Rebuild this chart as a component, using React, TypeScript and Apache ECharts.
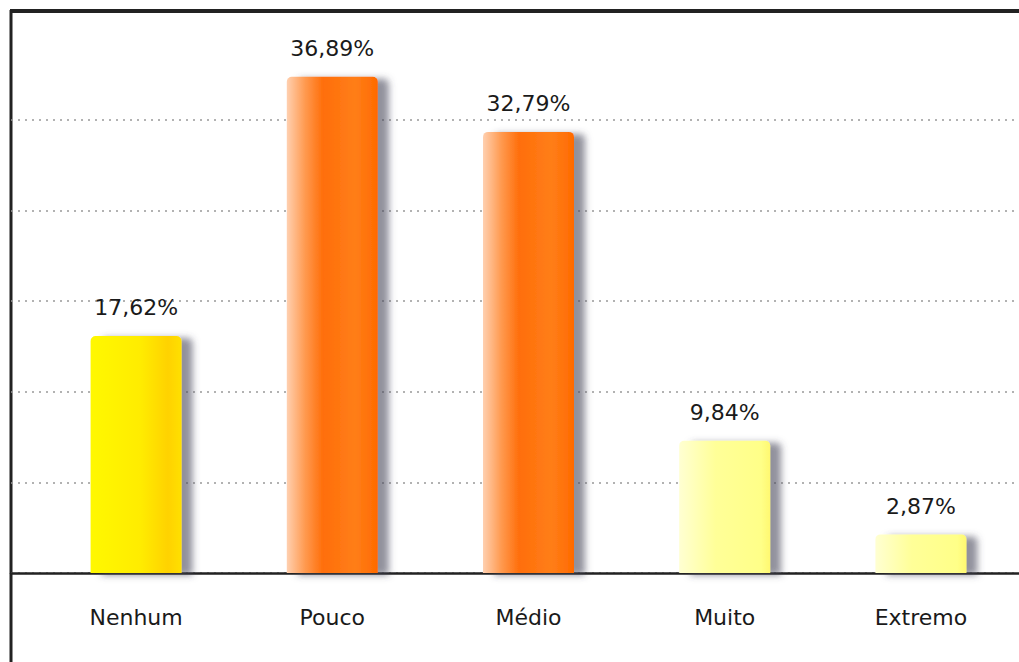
import React, { useEffect, useRef } from "react";
import * as echarts from "echarts";

const categories = ["Nenhum", "Pouco", "Médio", "Muito", "Extremo"];
const values = [17.62, 36.89, 32.79, 9.84, 2.87];
const colorGroups = ["yellow", "orange", "orange", "pale", "pale"];

const gradients: Record<string, { offset: number; color: string }[]> = {
  yellow: [
    { offset: 0, color: "#FFF800" },
    { offset: 0.55, color: "#FFEC00" },
    { offset: 0.85, color: "#FFD200" },
    { offset: 1, color: "#FFE000" },
  ],
  orange: [
    { offset: 0, color: "#FFD0B0" },
    { offset: 0.2, color: "#FF9A50" },
    { offset: 0.4, color: "#FF6E0A" },
    { offset: 0.75, color: "#FF7E18" },
    { offset: 1, color: "#FF6A00" },
  ],
  pale: [
    { offset: 0, color: "#FFFFD2" },
    { offset: 0.4, color: "#FFFF98" },
    { offset: 0.9, color: "#FFFF88" },
    { offset: 1, color: "#FFF870" },
  ],
};

export default function App() {
  const ref = useRef<HTMLDivElement>(null);
  useEffect(() => {
    if (!ref.current) return;
    const chart = echarts.init(ref.current, null, { renderer: "svg" });
    const font = "'DejaVu Sans', sans-serif";
    const interval = 6.74;
    const yMax = interval * 6;
    const splitColors = ["#999", "#999", "#999", "#999", "#999", "#999", "rgba(0,0,0,0)"];
    chart.setOption({
      animation: false,
      backgroundColor: "#ffffff",
      grid: [
        { left: 38, width: 982, top: 29, height: 544 },
        { left: 11, width: 1008, top: 29, height: 544 },
      ],
      xAxis: [
        {
          type: "category",
          gridIndex: 0,
          data: categories,
          axisLine: { show: false },
          axisTick: { show: false },
          axisLabel: { color: "#1a1a1a", fontSize: 22, fontFamily: font, margin: 33 },
        },
        {
          type: "value",
          gridIndex: 1,
          min: 0,
          max: 1,
          axisLine: { show: true, onZero: false, lineStyle: { color: "#222", width: 2.5 } },
          axisTick: { show: false },
          axisLabel: { show: false },
          splitLine: { show: false },
        },
      ],
      yAxis: [
        {
          type: "value",
          gridIndex: 0,
          min: 0,
          max: yMax,
          interval,
          axisLine: { show: false },
          axisTick: { show: false },
          axisLabel: { show: false },
          splitLine: { show: false },
        },
        {
          type: "value",
          gridIndex: 1,
          min: 0,
          max: yMax,
          interval,
          axisLine: { show: false },
          axisTick: { show: false },
          axisLabel: { show: false },
          splitLine: { show: true, lineStyle: { color: splitColors, type: [2, 5], width: 1.5 } },
        },
      ],
      series: [
        {
          type: "bar",
          xAxisIndex: 0,
          yAxisIndex: 0,
          barWidth: 91,
          data: values.map((v, i) => ({
            value: v,
            itemStyle: {
              color: new echarts.graphic.LinearGradient(0, 0, 1, 0, gradients[colorGroups[i]]),
              borderRadius: [5, 5, 0, 0],
              shadowColor: "rgba(70,70,90,0.6)",
              shadowBlur: 7,
              shadowOffsetX: 11,
              shadowOffsetY: 2,
            },
          })),
          label: {
            show: true,
            position: "top",
            distance: 17,
            color: "#1a1a1a",
            fontSize: 22,
            fontFamily: font,
            formatter: (p: any) => p.value.toFixed(2).replace(".", ",") + "%",
          },
        },
      ],
      graphic: [
        { type: "line", shape: { x1: 10, y1: 11, x2: 1019, y2: 11 }, style: { stroke: "#222", lineWidth: 4 } },
        { type: "line", shape: { x1: 11, y1: 10, x2: 11, y2: 662 }, style: { stroke: "#222", lineWidth: 3 } },
      ],
    });
    return () => chart.dispose();
  }, []);
  return (
    <div
      ref={ref}
      style={{ position: "fixed", left: 0, top: 0, width: 1019, height: 662, background: "#fff" }}
    />
  );
}
